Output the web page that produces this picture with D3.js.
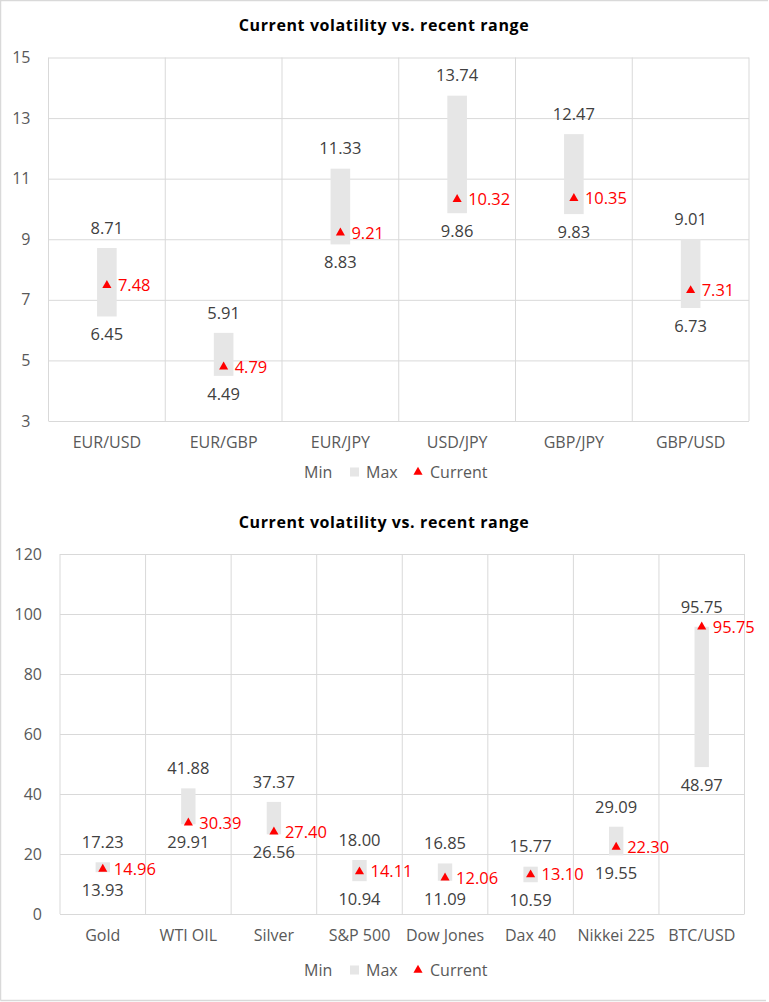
<!DOCTYPE html>
<html>
<head>
<meta charset="utf-8">
<script src="https://cdn.jsdelivr.net/npm/d3@7"></script>
<style>
  body { margin: 0; background: #fff; }
  svg text { font-family: "Open Sans", sans-serif; }
</style>
</head>
<body>
<div id="chart"></div>
<script>
// FX pairs
var fxPairs = ["EUR/USD", "EUR/GBP", "EUR/JPY", "USD/JPY", "GBP/JPY", "GBP/USD"];
var fxMin = [6.45, 4.49, 8.83, 9.86, 9.83, 6.73];
var fxMax = [8.71, 5.91, 11.33, 13.74, 12.47, 9.01];
var fxCurrent = [7.48, 4.79, 9.21, 10.32, 10.35, 7.31];
var fxTicks = [3, 5, 7, 9, 11, 13, 15];

// other assets
var assets = ["Gold", "WTI OIL", "Silver", "S&P 500", "Dow Jones", "Dax 40", "Nikkei 225", "BTC/USD"];
var assetMin = [13.93, 29.91, 26.56, 10.94, 11.09, 10.59, 19.55, 48.97];
var assetMax = [17.23, 41.88, 37.37, 18.00, 16.85, 15.77, 29.09, 95.75];
var assetCurrent = [14.96, 30.39, 27.40, 14.11, 12.06, 13.10, 22.30, 95.75];
var assetTicks = [0, 20, 40, 60, 80, 100, 120];

var chartTitle = "Current volatility vs. recent range";
var legendNames = ["Min", "Max", "Current"];

var width = 769, height = 1002;
var gridColor = "#d9d9d9", barColor = "#e6e6e6", textColor = "#404040", axisColor = "#595959";
var numSize = "16.5px", axSize = "16px";

var svg = d3.select("#chart").append("svg")
    .attr("width", width)
    .attr("height", height);

// outer frame
svg.append("path")
    .attr("d", "M0.5,1000.5 V0.5 H768 M0.5,1000.5 H766")
    .attr("fill", "none")
    .attr("stroke", gridColor)
    .attr("stroke-width", 1.5);

function draw_chart(top, cats, mins, maxs, curs, ticks, box) {
  var g = svg.append("g").attr("transform", "translate(0," + top + ")");

  var x = d3.scaleBand().domain(cats).range([box.left, box.right]).padding(0);
  var y = d3.scaleLinear().domain([ticks[0], ticks[ticks.length - 1]]).range([box.bottom, box.top]);
  var bw = x.bandwidth() * 0.168;

  // title
  g.append("text")
      .attr("x", 384)
      .attr("y", box.titleY)
      .attr("text-anchor", "middle")
      .style("font-size", "16px")
      .style("font-weight", "bold")
      .style("letter-spacing", "0.6px")
      .style("fill", "#000")
      .text(chartTitle);

  // horizontal grid + y labels
  var yAxis = g.append("g")
      .attr("transform", "translate(" + box.left + ",0)")
      .call(d3.axisLeft(y).tickValues(ticks).tickSize(-(box.right - box.left)).tickPadding(18));
  yAxis.select(".domain").remove();
  yAxis.selectAll("line").attr("stroke", gridColor);
  yAxis.selectAll("text")
      .style("font-size", axSize)
      .style("fill", axisColor)
      .style("font-family", "Open Sans");

  // vertical grid at category edges
  var edges = cats.map(function(c) { return x(c); }).concat([box.right]);
  g.selectAll(".vgrid")
      .data(edges)
      .enter()
      .append("line")
      .attr("class", "vgrid")
      .attr("x1", function(d) { return d; })
      .attr("x2", function(d) { return d; })
      .attr("y1", box.top)
      .attr("y2", box.bottom)
      .attr("stroke", gridColor);

  // category labels
  var xAxis = g.append("g")
      .attr("transform", "translate(0," + box.bottom + ")")
      .call(d3.axisBottom(x).tickSize(0).tickPadding(box.catPad));
  xAxis.select(".domain").remove();
  xAxis.selectAll("text")
      .style("font-size", axSize)
      .style("fill", axisColor)
      .style("font-family", "Open Sans");

  var rows = cats.map(function(c, i) { return {c: c, min: mins[i], max: maxs[i], cur: curs[i]}; });

  // range bars
  g.selectAll(".range")
      .data(rows)
      .enter()
      .append("rect")
      .attr("class", "range")
      .attr("x", function(d) { return x(d.c) + x.bandwidth() / 2 - bw / 2; })
      .attr("y", function(d) { return y(d.max); })
      .attr("width", bw)
      .attr("height", function(d) { return y(d.min) - y(d.max); })
      .style("fill", barColor);

  // max labels
  g.selectAll(".maxlab")
      .data(rows)
      .enter()
      .append("text")
      .attr("x", function(d) { return x(d.c) + x.bandwidth() / 2; })
      .attr("y", function(d) { return y(d.max) - 20; })
      .attr("dy", "0.35em")
      .attr("text-anchor", "middle")
      .style("font-size", numSize)
      .style("fill", textColor)
      .text(function(d) { return d.max.toFixed(2); });

  // min labels
  g.selectAll(".minlab")
      .data(rows)
      .enter()
      .append("text")
      .attr("x", function(d) { return x(d.c) + x.bandwidth() / 2; })
      .attr("y", function(d) { return y(d.min) + 18; })
      .attr("dy", "0.35em")
      .attr("text-anchor", "middle")
      .style("font-size", numSize)
      .style("fill", textColor)
      .text(function(d) { return d.min.toFixed(2); });

  // current markers
  var tri = d3.symbol().type(d3.symbolTriangle).size(36);
  g.selectAll(".cur")
      .data(rows)
      .enter()
      .append("path")
      .attr("d", tri)
      .attr("transform", function(d) { return "translate(" + (x(d.c) + x.bandwidth() / 2) + "," + y(d.cur) + ")"; })
      .style("fill", "#ff0000");

  g.selectAll(".curlab")
      .data(rows)
      .enter()
      .append("text")
      .attr("x", function(d) { return x(d.c) + x.bandwidth() / 2 + 11; })
      .attr("y", function(d) { return y(d.cur); })
      .attr("dy", "0.35em")
      .style("font-size", numSize)
      .style("fill", "#ff0000")
      .text(function(d) { return d.cur.toFixed(2); });

  // legend
  var leg = g.append("g").attr("transform", "translate(0," + box.legendY + ")");
  var legX = [288, 350, 414];
  leg.append("rect")
      .attr("x", legX[1])
      .attr("y", -4.5)
      .attr("width", 9)
      .attr("height", 9)
      .style("fill", barColor);
  leg.append("path")
      .attr("d", tri)
      .attr("transform", "translate(" + (legX[2] + 4) + ",0)")
      .style("fill", "#ff0000");
  leg.selectAll(".legtext")
      .data(legendNames)
      .enter()
      .append("text")
      .attr("x", function(d, i) { return legX[i] + 16; })
      .attr("y", 0)
      .attr("dy", "0.35em")
      .style("font-size", axSize)
      .style("fill", axisColor)
      .text(function(d) { return d; });
}

draw_chart(0, fxPairs, fxMin, fxMax, fxCurrent, fxTicks,
  {left: 48.5, right: 749, top: 57.5, bottom: 421, titleY: 31, catPad: 16, legendY: 472});
draw_chart(497, assets, assetMin, assetMax, assetCurrent, assetTicks,
  {left: 60, right: 744.5, top: 57, bottom: 417, titleY: 31, catPad: 16, legendY: 473});
</script>
</body>
</html>
